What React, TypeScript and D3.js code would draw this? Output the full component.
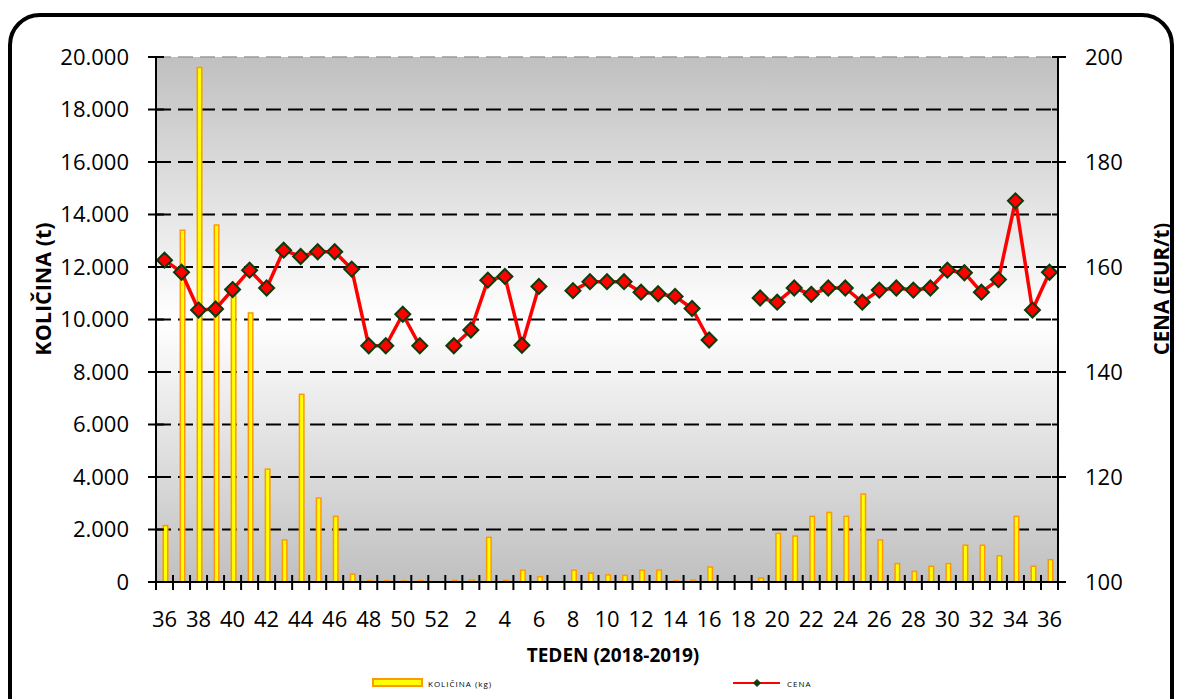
import * as d3 from "d3";
import React from "react";

// weeks 36/2018 .. 36/2019
const weeks = [
  36, 37, 38, 39, 40, 41, 42, 43, 44, 45, 46, 47, 48, 49, 50, 51, 52,
  1, 2, 3, 4, 5, 6, 7, 8, 9, 10, 11, 12, 13, 14, 15, 16, 17, 18, 19, 20,
  21, 22, 23, 24, 25, 26, 27, 28, 29, 30, 31, 32, 33, 34, 35, 36
];

// količina (kg)
const kolicina: (number | null)[] = [
  2150, 13400, 19600, 13600, 10900, 10250, 4300, 1600, 7150, 3200, 2500, 300, 50, 50, 40, 50, null,
  60, 80, 1700, 60, 450, 200, null, 450, 340, 270, 250, 450, 450, 50, 70, 570, null, null, 150, 1850,
  1750, 2500, 2650, 2500, 3350, 1600, 700, 400, 600, 700, 1400, 1400, 1000, 2500, 600, 850
];

// cena (EUR/t)
const cena: (number | null)[] = [
  161.3, 159.0, 151.8, 152.0, 155.7, 159.4, 156.0, 163.2, 162.0, 162.9, 162.9, 159.6, 145.0, 145.0, 151.0, 145.0, null,
  145.0, 148.0, 157.5, 158.2, 145.1, 156.3, null, 155.5, 157.2, 157.2, 157.2, 155.2, 154.9, 154.4, 152.1, 146.1, null, null, 154.1, 153.3,
  156.0, 154.8, 156.0, 156.0, 153.3, 155.6, 156.0, 155.6, 156.0, 159.4, 158.9, 155.2, 157.6, 172.6, 151.8, 159.0
];

const leftTicks = [0, 2000, 4000, 6000, 8000, 10000, 12000, 14000, 16000, 18000, 20000];
const rightTicks = [100, 120, 140, 160, 180, 200];
const rightMinor = [110, 130, 150, 170, 190];

const W = 1178;
const H = 699;
const plot = { left: 156, right: 1058, top: 57, bottom: 582 };
const font = "'Open Sans', 'Liberation Sans', sans-serif";

const fmt = (v: number) => (v === 0 ? "0" : d3.format(",")(v).replace(/,/g, "."));

export default function App() {
  const idx = weeks.map((_, i) => i);
  const x = d3.scaleBand<number>().domain(idx).range([plot.left, plot.right]).padding(0);
  const yL = d3.scaleLinear().domain([0, 20000]).range([plot.bottom, plot.top]);
  const yR = d3.scaleLinear().domain([100, 200]).range([plot.bottom, plot.top]);
  const cx = (i: number) => (x(i) as number) + x.bandwidth() / 2;

  const line = d3
    .line<number | null>()
    .defined((d) => d !== null)
    .x((_, i) => cx(i))
    .y((d) => yR(d as number));

  const diamond = (r: number) => `M0,${-r}L${r},0L0,${r}L${-r},0Z`;
  const barW = 4.5;

  return (
    <div style={{ position: "absolute", left: 0, top: 0 }}>
      <svg width={W} height={H} style={{ display: "block", background: "#fff" }}>
        <defs>
          <linearGradient id="bg" x1="0" y1="0" x2="0" y2="1">
            <stop offset="0" stopColor="#c0c0c0" />
            <stop offset="0.5" stopColor="#ffffff" />
            <stop offset="1" stopColor="#c0c0c0" />
          </linearGradient>
        </defs>

        <rect x={10} y={15} width={1162} height={730} rx={30} fill="#fff" stroke="#000" strokeWidth={4} />

        <rect
          x={plot.left}
          y={plot.top}
          width={plot.right - plot.left}
          height={plot.bottom - plot.top}
          fill="url(#bg)"
        />

        {/* gridlines */}
        {leftTicks.slice(1).map((t) => (
          <line
            key={t}
            x1={plot.left}
            x2={plot.right}
            y1={yL(t)}
            y2={yL(t)}
            stroke={t === 20000 ? "#9a9a9a" : "#000"}
            strokeWidth={t === 20000 ? 1.5 : 2}
            strokeDasharray="15 7"
          />
        ))}

        {/* bars */}
        {kolicina.map((v, i) =>
          v === null ? null : (
            <rect
              key={i}
              x={cx(i) - barW / 2 + 1}
              y={yL(v)}
              width={barW}
              height={plot.bottom - yL(v)}
              fill="#ffff00"
              stroke="#ff9900"
              strokeWidth={1.5}
            />
          )
        )}

        {/* price line */}
        <path d={line(cena) || ""} fill="none" stroke="#ff0000" strokeWidth={3.5} strokeLinejoin="round" />
        {cena.map((v, i) =>
          v === null ? null : (
            <path
              key={i}
              d={diamond(7.5)}
              transform={`translate(${cx(i)},${yR(v)})`}
              fill="#ff0000"
              stroke="#0b3d0b"
              strokeWidth={2}
            />
          )
        )}

        {/* left axis */}
        <line x1={plot.left} x2={plot.left} y1={plot.top} y2={plot.bottom} stroke="#000" strokeWidth={2} />
        {leftTicks.map((t) => (
          <g key={t}>
            <line x1={148} x2={164} y1={yL(t)} y2={yL(t)} stroke="#000" strokeWidth={2} />
            <text
              x={129}
              y={yL(t)}
              dy="0.36em"
              textAnchor="end"
              fontFamily={font}
              fontSize={22}
              fill="#000"
            >
              {fmt(t)}
            </text>
          </g>
        ))}

        {/* right axis */}
        <line x1={plot.right} x2={plot.right} y1={plot.top} y2={plot.bottom} stroke="#000" strokeWidth={2} />
        {rightTicks.map((t) => (
          <g key={t}>
            <line x1={1052} x2={1066} y1={yR(t)} y2={yR(t)} stroke="#000" strokeWidth={2} />
            <text x={1085} y={yR(t)} dy="0.36em" fontFamily={font} fontSize={22} fill="#000">
              {t}
            </text>
          </g>
        ))}
        {rightMinor.map((t) => (
          <line key={t} x1={1052} x2={1058} y1={yR(t)} y2={yR(t)} stroke="#000" strokeWidth={2} />
        ))}

        {/* x axis */}
        <line x1={148} x2={plot.right} y1={plot.bottom} y2={plot.bottom} stroke="#000" strokeWidth={2} />
        {[...idx, weeks.length].map((i) => {
          const xx = plot.left + i * x.bandwidth();
          return <line key={i} x1={xx} x2={xx} y1={575} y2={590} stroke="#000" strokeWidth={2} />;
        })}
        {weeks.map((w, i) =>
          i % 2 === 0 ? (
            <text key={i} x={cx(i)} y={627} textAnchor="middle" fontFamily={font} fontSize={22} fill="#000">
              {w}
            </text>
          ) : null
        )}

        {/* axis titles */}
        <text x={613} y={662} textAnchor="middle" fontFamily={font} fontSize={19} fontWeight="bold">
          TEDEN (2018-2019)
        </text>
        <text
          transform="translate(51,289) rotate(-90)"
          textAnchor="middle"
          fontFamily={font}
          fontSize={21.5}
          fontWeight="bold"
        >
          KOLIČINA (t)
        </text>
        <text
          transform="translate(1169,289) rotate(-90)"
          textAnchor="middle"
          fontFamily={font}
          fontSize={20.5}
          fontWeight="bold"
        >
          CENA (EUR/t)
        </text>

        {/* legend */}
        <rect x={373} y={679} width={49} height={7} fill="#ffff00" stroke="#ff9900" strokeWidth={2} />
        <text x={428} y={687} fontFamily={font} fontSize={8} letterSpacing={1}>
          KOLIČINA (kg)
        </text>
        <line x1={733} x2={780} y1={683} y2={683} stroke="#ff0000" strokeWidth={2} />
        <path d={diamond(3.5)} transform="translate(757,683)" fill="#0b3d0b" stroke="#0b3d0b" strokeWidth={1} />
        <text x={787} y={687} fontFamily={font} fontSize={8} letterSpacing={1}>
          CENA
        </text>
      </svg>
    </div>
  );
}
